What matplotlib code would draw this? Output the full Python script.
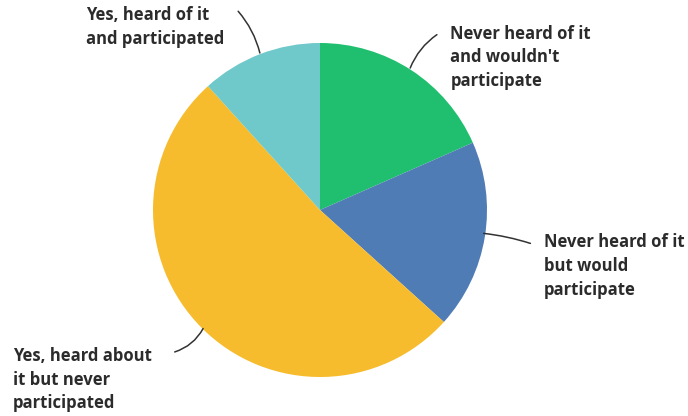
import numpy as np
import matplotlib.pyplot as plt

labels = ["Never heard of it\nand wouldn't\nparticipate",
          "Never heard of it\nbut would\nparticipate",
          "Yes, heard about\nit but never\nparticipated",
          "Yes, heard of it\nand participated"]
values = [18.4, 18.3, 51.6, 11.7]
colors = ["#20bf6f", "#507cb5", "#f6bc2d", "#6fc8c9"]

# label text position (left, top) and leader line start, in pie units
text_pos = [(0.78, 1.11), (1.34, -0.14), (-1.84, -0.82), (-1.40, 1.22)]
leader_start = [(0.70, 1.05), (1.26, -0.20), (-0.87, -0.85), (-0.49, 1.19)]
edges = [(0.54, 0.85), (0.98, -0.14), (-0.70, -0.71), (-0.36, 0.94)]
leader_rad = [0.15, 0.05, 0.2, -0.12]

plt.rcParams['font.family'] = ['Open Sans', 'DejaVu Sans']

fig = plt.figure(figsize=(6.88, 4.16), dpi=100)
ax = fig.add_axes([153 / 688, 39 / 416, 334 / 688, 334 / 416])
wedges, _ = ax.pie(values, colors=colors, startangle=90, counterclock=False,
                   radius=1, wedgeprops=dict(linewidth=0))
ax.set_xlim(-1, 1)
ax.set_ylim(-1, 1)
ax.set_aspect('equal')
ax.axis('off')

for lab, tp in zip(labels, text_pos):
    ax.text(tp[0], tp[1], lab, ha='left', va='top', fontsize=12,
            fontweight='bold', color='#2b2b2b', linespacing=1.4, clip_on=False)

# leader lines pointing to the slice edge
for ls, e, rad in zip(leader_start, edges, leader_rad):
    ax.annotate('', xy=e, xytext=ls, annotation_clip=False,
                arrowprops=dict(arrowstyle='-', color='#333333', lw=1.1,
                                connectionstyle='arc3,rad=%s' % rad,
                                shrinkA=0, shrinkB=0))

fig.savefig('out.png', dpi=100)
